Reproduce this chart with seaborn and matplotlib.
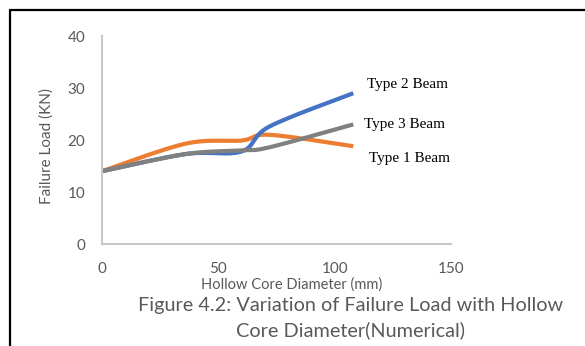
import numpy as np
import pandas as pd
import matplotlib
matplotlib.use("Agg")
import matplotlib.pyplot as plt
from matplotlib.lines import Line2D
import seaborn as sns

# Hollow core diameter (mm) and failure load (KN) per beam type
diameter = [0, 36, 60, 72, 108]
type1_load = [14.0, 19.3, 19.9, 21.0, 18.8]
type2_load = [14.0, 17.3, 17.8, 22.6, 29.0]
type3_load = [14.0, 17.3, 18.0, 18.6, 23.0]

series_names = ["Type 1 Beam", "Type 2 Beam", "Type 3 Beam"]
series_colors = ["#ED7D31", "#4472C4", "#808080"]
x_ticks = [0, 50, 100, 150]
y_ticks = [0, 10, 20, 30, 40]


def smooth(xs, ys, steps=40):
    """Spreadsheet-style smoothed line: cubic Bezier with 1/6 tangents."""
    p = np.column_stack([xs, ys]).astype(float)
    n = len(p)
    out = []
    for i in range(n - 1):
        p0 = p[max(i - 1, 0)]
        p1 = p[i]
        p2 = p[i + 1]
        p3 = p[min(i + 2, n - 1)]
        c1 = p1 + (p2 - p0) / 6.0
        c2 = p2 - (p3 - p1) / 6.0
        t = np.linspace(0, 1, steps, endpoint=(i == n - 2))[:, None]
        seg = ((1 - t) ** 3) * p1 + 3 * ((1 - t) ** 2) * t * c1 \
            + 3 * (1 - t) * t ** 2 * c2 + t ** 3 * p2
        out.append(seg)
    return np.vstack(out)


frames = []
for name, loads in zip(series_names, [type1_load, type2_load, type3_load]):
    curve = smooth(diameter, loads)
    frames.append(pd.DataFrame({"diameter": curve[:, 0],
                                "load": curve[:, 1],
                                "beam": name}))
df = pd.concat(frames, ignore_index=True)

sns.set_theme(style="white")
plt.rcParams["font.family"] = ["Lato", "DejaVu Sans"]

fig = plt.figure(figsize=(5.85, 3.46), dpi=100)
ax = fig.add_axes([102 / 585, 1 - 244 / 346, (451 - 102) / 585, (244 - 36) / 346])

sns.lineplot(data=df, x="diameter", y="load", hue="beam",
             hue_order=series_names, palette=series_colors,
             sort=False, estimator=None, units="beam",
             linewidth=3.0, legend=False, ax=ax)
for line in ax.get_lines():
    line.set_solid_capstyle("butt")

ax.set_xlim(0, 150)
ax.set_ylim(0, 40)
ax.set_xticks(x_ticks)
ax.set_yticks(y_ticks)
ax.tick_params(axis="both", length=0, labelsize=11, colors="#595959")
ax.tick_params(axis="x", pad=13)
ax.tick_params(axis="y", pad=12)
ax.set_xlabel("")
ax.set_ylabel("")
for side in ["top", "right"]:
    ax.spines[side].set_visible(False)
for side in ["left", "bottom"]:
    ax.spines[side].set_color("#C8C8C8")
    ax.spines[side].set_linewidth(1.5)

# series labels at the line ends
label_offsets = {"Type 2 Beam": (10, 6), "Type 3 Beam": (8, 0), "Type 1 Beam": (11, -9)}
for name, loads in zip(series_names, [type1_load, type2_load, type3_load]):
    dx, dy = label_offsets[name]
    ax.annotate(name, xy=(diameter[-1], loads[-1]), xytext=(dx, dy),
                textcoords="offset points", ha="left", va="center",
                fontsize=11, family=["Liberation Serif"], color="black")

fig.text(47 / 585, 1 - 146 / 346, "Failure Load (KN)", rotation=90,
         ha="center", va="center", fontsize=11, color="#595959")
fig.text(292 / 585, 1 - 285 / 346, "Hollow Core Diameter (mm)",
         ha="center", va="center", fontsize=10.5, color="#595959")
fig.text(351 / 585, 1 - 305 / 346,
         "Figure 4.2: Variation of Failure Load with Hollow",
         ha="center", va="center", fontsize=14.3, color="#595959")
fig.text(350 / 585, 1 - 330 / 346, "Core Diameter(Numerical)",
         ha="center", va="center", fontsize=14.3, color="#595959")

# page frame lines (top and left)
fig.add_artist(Line2D([10 / 585, 1.0], [1 - 10 / 346, 1 - 10 / 346],
                      transform=fig.transFigure, color="black", linewidth=1.6))
fig.add_artist(Line2D([10 / 585, 10 / 585], [0.0, 1 - 10 / 346],
                      transform=fig.transFigure, color="black", linewidth=1.6))

fig.savefig("out.png", dpi=100, facecolor="white")
